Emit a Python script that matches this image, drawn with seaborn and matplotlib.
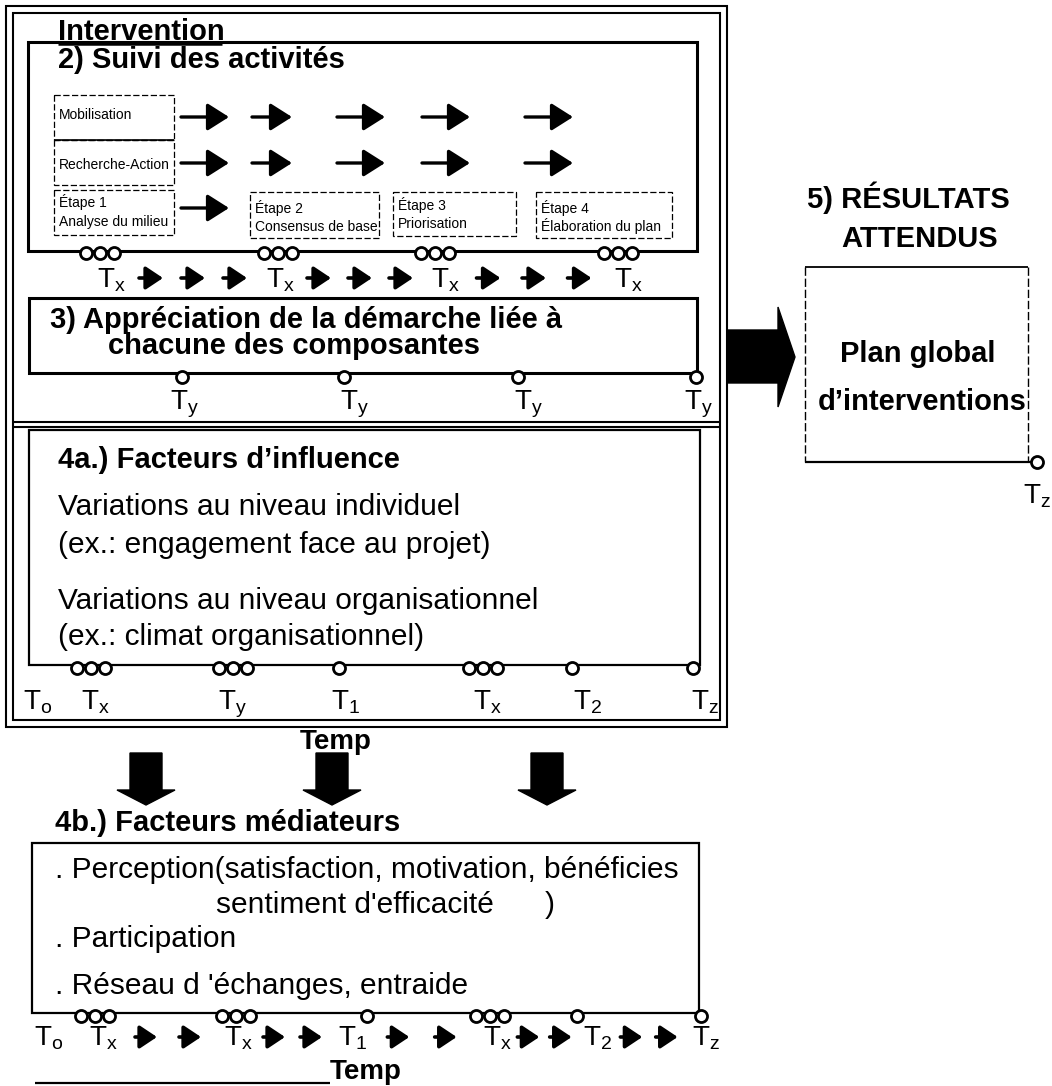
import matplotlib
matplotlib.use("Agg")
import matplotlib.pyplot as plt
from matplotlib.patches import Rectangle, Polygon
import seaborn as sns
import pandas as pd

# --- contenu du schéma ---
activites = ["Mobilisation", "Recherche-Action"]
etapes = [("Étape 1", "Analyse du milieu"), ("Étape 2", "Consensus de base"),
          ("Étape 3", "Priorisation"), ("Étape 4", "Élaboration du plan")]
fleches_activites = [181, 252, 337, 422, 525]

# temps de mesure : position, nombre de mesures (o / ooo), indice du T
suivi_pos = [100, 278, 435, 618]
suivi_nb = [3, 3, 3, 3]
suivi_lab = ["x", "x", "x", "x"]
suivi_lab_x = [105, 274, 439, 622]

apprec_pos = [182, 344, 518, 696]
apprec_nb = [1, 1, 1, 1]
apprec_lab = ["y", "y", "y", "y"]
apprec_lab_x = [178, 348, 522, 692]

infl_pos = [91, 233, 339, 483, 572, 693]
infl_nb = [3, 3, 1, 3, 1, 1]
infl_lab = ["o", "x", "y", "1", "x", "2", "z"]
infl_lab_x = [31, 89, 226, 339, 481, 581, 699]

med_pos = [95, 236, 367, 490, 577, 701]
med_nb = [3, 3, 1, 3, 1, 1]
med_lab = ["o", "x", "x", "1", "x", "2", "z"]
med_lab_x = [42, 97, 232, 346, 491, 591, 700]

fleches_bas = [146, 332, 547]

influence = ["Variations au niveau individuel", "(ex.: engagement face au projet)",
             "Variations au niveau organisationnel", "(ex.: climat organisationnel)"]

sns.set_theme(style="white")
plt.rcParams['font.family'] = ['Liberation Sans', 'DejaVu Sans']
plt.rcParams['text.color'] = 'black'
plt.rcParams['mathtext.default'] = 'regular'

fig = plt.figure(figsize=(10.52, 10.86), dpi=100)
ax = fig.add_axes([0, 0, 1, 1])

TITRE = 21
TEXTE = 21.5
PETIT = 10


def boite(x0, y0, x1, y1, lw=1.6, ls='-'):
    r = Rectangle((x0, y0), x1 - x0, y1 - y0, fill=False, lw=lw, ls=ls, ec='black', zorder=2)
    ax.add_patch(r)
    return r


def ligne(xs, ys, lw=1.4, ls='-'):
    ax.plot(xs, ys, color='black', lw=lw, ls=ls, solid_capstyle='butt', zorder=2)


def fleche(x0, x1, y, taille=22, lw=2.4, hl=0.6, hw=0.38):
    ax.annotate('', xy=(x1, y), xytext=(x0, y),
                arrowprops=dict(arrowstyle=f'-|>,head_length={hl},head_width={hw}',
                                lw=lw, color='black', shrinkA=0, shrinkB=0,
                                mutation_scale=taille))


def fleches_entre(xa, xb, n, y, longueur=23, **kw):
    pas = (xb - xa - n * longueur) / (n + 1)
    for k in range(n):
        d = xa + pas * (k + 1) + longueur * k
        fleche(d, d + longueur, y, **kw)


def mesures(pos, nb, y):
    xs = []
    for p, n in zip(pos, nb):
        xs += [p + 14 * (k - (n - 1) / 2) for k in range(n)]
    df = pd.DataFrame({'x': xs, 'y': [y + 3] * len(xs)})
    sns.scatterplot(data=df, x='x', y='y', ax=ax, s=75, marker='o', color='white',
                    edgecolor='black', linewidth=2.0, zorder=5, legend=False)


def etiquettes(xs, subs, y, taille=20):
    # T avec indice, en un seul texte
    for x, s in zip(xs, subs):
        ax.text(x - 0.42 * taille, y, 'T$_{' + s + '}$', ha='left', va='baseline', fontsize=taille)


# --- cadre double de l'intervention ---
boite(6, 6, 727, 727, lw=1.5)
boite(13, 13, 720, 720, lw=1.5)
ligne([13, 720], [422, 422], lw=1.5)
ligne([13, 720], [427, 427], lw=1.5)

ax.text(58, 40, "Intervention", fontsize=TITRE, fontweight='bold', va='baseline')
ligne([58, 222], [44, 44], lw=1.8)

# --- 2) suivi des activités ---
boite(28, 42, 697, 251, lw=2.2)
ax.text(58, 68, "2) Suivi des activités", fontsize=TITRE, fontweight='bold', va='baseline')

r_mob = boite(54, 95, 174, 140, lw=0.9, ls=(0, (5, 2)))
ligne([54, 174], [140, 140], lw=1.2)
r_rech = boite(54, 140, 174, 185, lw=0.9, ls=(0, (5, 2)))
for lab, y, r in zip(activites, [119, 169], [r_mob, r_rech]):
    t = ax.text(59, y, lab, fontsize=PETIT, va='baseline')
    t.set_clip_path(r)
for y in [117, 163]:
    for i, x in enumerate(fleches_activites):
        fleche(x, x + (40 if i == 1 else 48), y)
fleche(fleches_activites[0], fleches_activites[0] + 48, 208)

cadres_etapes = [(54, 190, 174, 235), (250, 192, 379, 238), (393, 192, 516, 236), (536, 192, 672, 238)]
bases_etapes = [(207, 226), (213, 231), (210, 228), (213, 231)]
for (t1, t2), (x0, y0, x1, y1), (b1, b2) in zip(etapes, cadres_etapes, bases_etapes):
    r = boite(x0, y0, x1, y1, lw=0.9, ls=(0, (5, 2)))
    for txt, b in [(t1, b1), (t2, b2)]:
        t = ax.text(x0 + 5, b, txt, fontsize=PETIT, va='baseline')
        t.set_clip_path(r)

mesures(suivi_pos, suivi_nb, 250)
etiquettes(suivi_lab_x, suivi_lab, 288)
for a, b in zip(suivi_lab_x[:-1], suivi_lab_x[1:]):
    fleches_entre(a + 16, b - 9, 3, 278, longueur=24, taille=14, lw=2.6, hl=0.75, hw=0.5)

# --- 3) appréciation de la démarche ---
boite(29, 298, 697, 373, lw=2.2)
ax.text(50, 328, "3) Appréciation de la démarche liée à", fontsize=TITRE, fontweight='bold', va='baseline')
ax.text(108, 354, "chacune des composantes", fontsize=TITRE, fontweight='bold', va='baseline')
mesures(apprec_pos, apprec_nb, 374)
etiquettes(apprec_lab_x, apprec_lab, 410)

# --- 4a) facteurs d'influence ---
boite(29, 430, 700, 665, lw=1.6)
ax.text(58, 468, "4a.) Facteurs d’influence", fontsize=TITRE, fontweight='bold', va='baseline')
for txt, b in zip(influence, [515, 553, 609, 645]):
    ax.text(58, b, txt, fontsize=TEXTE, va='baseline')
mesures(infl_pos, infl_nb, 665)
etiquettes(infl_lab_x, infl_lab, 710)
ax.text(300, 749, "Temp", fontsize=20, fontweight='bold', va='baseline')

# --- grosses flèches ---
ax.add_patch(Polygon([(727, 330), (778, 330), (778, 307), (795, 357), (778, 407), (778, 383), (727, 383)],
                     closed=True, fc='black', ec='black', zorder=3))
for c in fleches_bas:
    ax.add_patch(Polygon([(c - 16, 753), (c + 16, 753), (c + 16, 790), (c + 29, 790), (c, 805),
                          (c - 29, 790), (c - 16, 790)], closed=True, fc='black', ec='black', zorder=3))

# --- 5) résultats attendus ---
ax.text(908, 208, "5) RÉSULTATS", fontsize=TITRE, fontweight='bold', ha='center', va='baseline')
ax.text(920, 247, "ATTENDUS", fontsize=TITRE, fontweight='bold', ha='center', va='baseline')
ligne([805, 1028], [267, 267], lw=1.3)
ligne([805, 805], [267, 462], lw=1.0, ls=(0, (6, 2)))
ligne([1028, 1028], [267, 462], lw=1.0, ls=(0, (6, 2)))
ligne([805, 1037], [462, 462], lw=1.6)
ax.text(918, 362, "Plan global", fontsize=TITRE, fontweight='bold', ha='center', va='baseline')
ax.text(922, 410, "d’interventions", fontsize=TITRE, fontweight='bold', ha='center', va='baseline')
mesures([1037], [1], 459)
etiquettes([1031], ["z"], 503)

# --- 4b) facteurs médiateurs ---
ax.text(55, 831, "4b.) Facteurs médiateurs", fontsize=TITRE, fontweight='bold', va='baseline')
boite(32, 843, 699, 1013, lw=1.6)
ax.text(55, 878, ". Perception(satisfaction, motivation, bénéficies", fontsize=TEXTE, va='baseline')
ax.text(216, 913, "sentiment d'efficacité", fontsize=TEXTE, va='baseline')
ax.text(545, 913, ")", fontsize=TEXTE, va='baseline')
ax.text(55, 947, ". Participation", fontsize=TEXTE, va='baseline')
ax.text(55, 994, ". Réseau d 'échanges, entraide", fontsize=TEXTE, va='baseline')
mesures(med_pos, med_nb, 1013)
etiquettes(med_lab_x, med_lab, 1046)
for a, b in zip(med_lab_x[1:-1], med_lab_x[2:]):
    fleches_entre(a + 16, b - 9, 2, 1037, longueur=22, taille=14, lw=2.6, hl=0.75, hw=0.5)
ax.text(330, 1079, "Temp", fontsize=20, fontweight='bold', va='baseline')
ligne([35, 330], [1083, 1083], lw=1.6)

ax.set_xlim(0, 1052)
ax.set_ylim(1086, 0)
ax.axis('off')
fig.savefig("out.png", dpi=100, facecolor='white')
